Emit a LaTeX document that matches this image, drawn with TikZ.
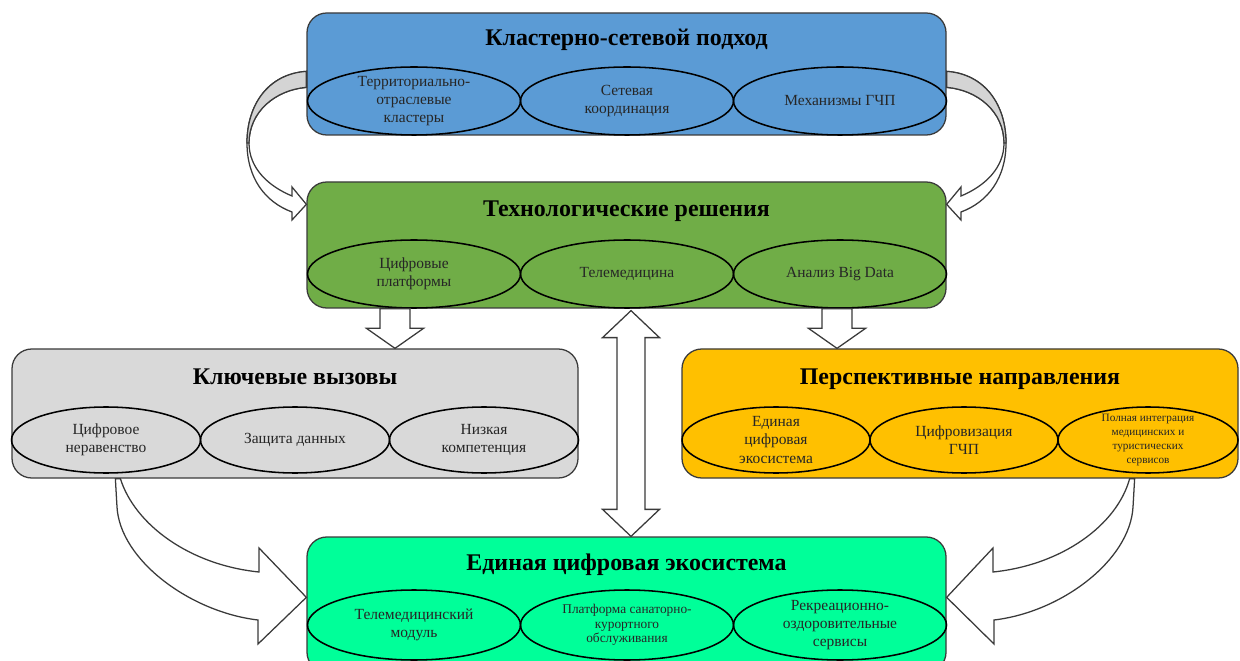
\documentclass[tikz,border=0pt]{standalone}
\usepackage{fontspec}
\setmainfont{Liberation Serif}
\usetikzlibrary{calc,positioning,shapes.geometric}

\definecolor{clusterblue}{HTML}{5B9BD5}
\definecolor{techgreen}{HTML}{70AD47}
\definecolor{challengegray}{HTML}{D9D9D9}
\definecolor{prospectyellow}{HTML}{FFC000}
\definecolor{ecomint}{HTML}{00FF99}
\definecolor{edgegray}{HTML}{3A3A3A}
\definecolor{ribbongray}{HTML}{D4D4D4}

\newcommand{\pxu}{0.025cm}

\tikzset{
  panel/.style={draw=edgegray, line width=0.9pt, rounded corners=14pt, inner sep=0pt,
    minimum width=639*\pxu, minimum height=126*\pxu},
  sidepanel/.style={panel, minimum width=566*\pxu, minimum height=129*\pxu},
  boxtitle/.style={font=\fontsize{17}{20}\selectfont\bfseries, anchor=base, inner sep=0pt},
  oval/.style={ellipse, draw=black, line width=1.1pt, inner sep=0pt,
    minimum width=213*\pxu, minimum height=68*\pxu},
  sideoval/.style={oval, minimum width=189*\pxu, minimum height=66*\pxu},
  ovaltext/.style={font=\fontsize{11}{13}\selectfont, align=center, inner sep=0pt, text=black!85},
  smalltext/.style={ovaltext, font=\fontsize{8}{10}\selectfont},
  midtext/.style={ovaltext, font=\fontsize{9.5}{10.5}\selectfont},
  blockarrow/.style={draw=edgegray, fill=white, line width=0.9pt, line join=miter},
  ribbon/.style={draw=edgegray, fill=ribbongray, line width=0.9pt},
}

\begin{document}
\begin{tikzpicture}[x=0.025cm, y=-0.025cm]
    \useasboundingbox (0,0) rectangle (1240,661);
    % panels
    \node[panel, fill=clusterblue, minimum height=122*\pxu] (cluster) at (626.5,74) {};
    \node[panel, fill=techgreen] (tech) at (626.5,245) {};
    \node[sidepanel, fill=challengegray] (challenges) at (295,413.5) {};
    \node[sidepanel, fill=prospectyellow, minimum width=556*\pxu] (prospects) at (960,413.5) {};
    \node[panel, fill=ecomint, minimum height=135*\pxu] (ecosystem) at (626.5,604.5) {};
    % titles
    \node[boxtitle] (clustertitle) at ($(cluster.north)+(0,33)$) {Кластерно-сетевой подход};
    \node[boxtitle] (techtitle) at ($(tech.north)+(0,35)$) {Технологические решения};
    \node[boxtitle] (challengestitle) at ($(challenges.north)+(0,36)$) {Ключевые вызовы};
    \node[boxtitle] (prospectstitle) at ($(prospects.north)+(0,36)$) {Перспективные направления};
    \node[boxtitle] (ecosystemtitle) at ($(ecosystem.north)+(0,34)$) {Единая цифровая экосистема};
    % ovals of the cluster panel
    \node[oval, label={[ovaltext]center:{Территориально-\\отраслевые\\кластеры}}] (territorial) at (414,101) {};
    \node[oval, label={[ovaltext]center:{Сетевая\\координация}}] (coordination) at (627,101) {};
    \node[oval, label={[ovaltext]center:{Механизмы ГЧП}}] (pppmech) at (840,101) {};
    % ovals of the tech panel
    \node[oval, label={[ovaltext]center:{Цифровые\\платформы}}] (platforms) at (414,274) {};
    \node[oval, label={[ovaltext]center:{Телемедицина}}] (telemed) at (627,274) {};
    \node[oval, label={[ovaltext]center:{Анализ Big Data}}] (bigdata) at (840,274) {};
    % ovals of the challenges panel
    \node[sideoval, label={[ovaltext]center:{Цифровое\\неравенство}}] (inequality) at (106,440) {};
    \node[sideoval, label={[ovaltext]center:{Защита данных}}] (dataprot) at (295,440) {};
    \node[sideoval, label={[ovaltext]center:{Низкая\\компетенция}}] (lowskill) at (484,440) {};
    % ovals of the prospects panel
    \node[sideoval, minimum width=188*\pxu, label={[ovaltext]center:{Единая\\цифровая\\экосистема}}] (unified) at (776,440) {};
    \node[sideoval, minimum width=188*\pxu, label={[ovaltext]center:{Цифровизация\\ГЧП}}] (pppdigital) at (964,440) {};
    \node[sideoval, minimum width=180*\pxu, label={[smalltext]center:{Полная интеграция\\медицинских и\\туристических\\сервисов}}] (integration) at (1148,440) {};
    % ovals of the ecosystem panel
    \node[oval, minimum height=70*\pxu, label={[ovaltext]center:{Телемедицинский\\модуль}}] (telemodule) at (414,625) {};
    \node[oval, minimum height=70*\pxu, label={[midtext]center:{Платформа санаторно-\\курортного\\обслуживания}}] (resort) at (627,625) {};
    \node[oval, minimum height=70*\pxu, label={[ovaltext]center:{Рекреационно-\\оздоровительные\\сервисы}}] (recreation) at (840,625) {};
    % curved arrows cluster -> tech
    \draw[blockarrow] ($(cluster.north west)+(0,59)$) .. controls (268,74) and (247,105) .. (247,143)
        .. controls (247,178) and (265,202) .. (292,212) -- (292,220) -- ($(tech.north west)+(0,23)$)
        -- (292,187) -- (292,196) .. controls (268,186) and (249,168) .. (249,143)
        .. controls (249,112) and (275,90) .. ($(cluster.north west)+(0,75)$) -- cycle;
    \draw[ribbon] ($(cluster.north west)+(0,59)$) .. controls (268,74) and (247,105) .. (247,143)
        -- (249,143) .. controls (249,112) and (275,90) .. ($(cluster.north west)+(0,75)$) -- cycle;
    \draw[blockarrow] ($(cluster.north east)+(0,59)$) .. controls (985,74) and (1006,105) .. (1006,143)
        .. controls (1006,178) and (988,202) .. (961,212) -- (961,220) -- ($(tech.north east)+(0,23)$)
        -- (961,187) -- (961,196) .. controls (985,186) and (1004,168) .. (1004,143)
        .. controls (1004,112) and (978,90) .. ($(cluster.north east)+(0,75)$) -- cycle;
    \draw[ribbon] ($(cluster.north east)+(0,59)$) .. controls (985,74) and (1006,105) .. (1006,143)
        -- (1004,143) .. controls (1004,112) and (978,90) .. ($(cluster.north east)+(0,75)$) -- cycle;
    % straight block arrows
    \coordinate (leftdrop) at (395,0);
    \coordinate (rightdrop) at (837,0);
    \coordinate (middrop) at (631,0);
    \draw[blockarrow] ($(tech.south -| leftdrop)+(-15,0)$) -- ($(challenges.north -| leftdrop)+(-15,-20)$)
        -- ++(-13.5,0) -- (challenges.north -| leftdrop) -- ++(28.5,-20) -- ++(-13.5,0)
        -- ($(tech.south -| leftdrop)+(15,0)$) -- cycle;
    \draw[blockarrow] ($(tech.south -| rightdrop)+(-15,0)$) -- ($(prospects.north -| rightdrop)+(-15,-20)$)
        -- ++(-13.5,0) -- (prospects.north -| rightdrop) -- ++(28.5,-20) -- ++(-13.5,0)
        -- ($(tech.south -| rightdrop)+(15,0)$) -- cycle;
    \draw[blockarrow] ($(tech.south -| middrop)+(0,2)$) -- ++(28.5,27) -- ++(-14.5,0)
        -- ($(ecosystem.north -| middrop)+(14,-27)$) -- ++(14.5,0) -- (ecosystem.north -| middrop)
        -- ++(-28.5,-27) -- ++(14.5,0) -- ($(tech.south -| middrop)+(-14,29)$) -- ++(-14.5,0) -- cycle;
    % curved arrows challenges/prospects -> ecosystem
    \draw[blockarrow] ($(challenges.south west)+(104,0)$) -- (117,507) .. controls (120,560) and (190,612) .. (258,620)
        -- (258,644) -- ($(ecosystem.north west)+(0,61)$) -- (259,548) -- (259,572)
        .. controls (190,565) and (135,525) .. ($(challenges.south west)+(109,0)$) -- cycle;
    \draw[blockarrow] ($(prospects.south east)+(-104,0)$) -- (1133,507) .. controls (1130,560) and (1062,612) .. (994,620)
        -- (994,644) -- ($(ecosystem.north east)+(0,61)$) -- (993,548) -- (993,572)
        .. controls (1062,565) and (1117,525) .. ($(prospects.south east)+(-109,0)$) -- cycle;
\end{tikzpicture}
\end{document}
